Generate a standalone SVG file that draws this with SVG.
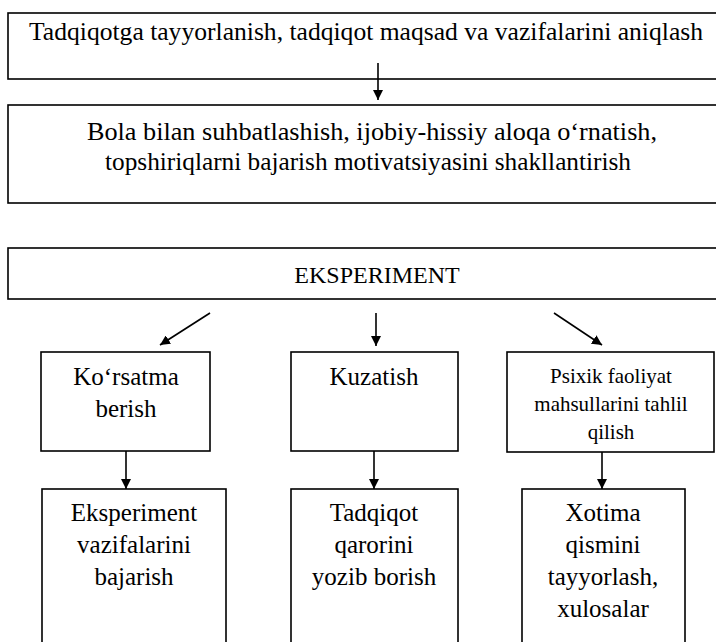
<svg xmlns="http://www.w3.org/2000/svg" width="716" height="642" viewBox="0 0 716 642">
<style>
.box{fill:none;stroke:#000;stroke-width:1.6}
.t{font-family:"Liberation Serif","Times New Roman",serif;font-size:25px;fill:#000;text-anchor:middle}
.s{font-size:21px}
.c{stroke:#000;stroke-width:1.6;fill:none;marker-end:url(#ah)}
</style>
<defs>
<marker id="ah" viewBox="0 0 10 10" refX="10" refY="5" markerWidth="10" markerHeight="10" markerUnits="userSpaceOnUse" orient="auto">
<path d="M0,0 L10,5 L0,10 z" fill="#000"/>
</marker>
</defs>
<rect width="716" height="642" fill="#fff"/>
<g id="connectors">
<line class="c" x1="378" y1="63" x2="378" y2="100"/>
<line class="c" x1="210" y1="313" x2="160" y2="345"/>
<line class="c" x1="376" y1="313" x2="376" y2="346"/>
<line class="c" x1="554" y1="313" x2="602" y2="345"/>
<line class="c" x1="126" y1="451" x2="126" y2="489"/>
<line class="c" x1="374" y1="451" x2="374" y2="489"/>
<line class="c" x1="602" y1="452" x2="602" y2="489"/>
</g>
<g id="n1">
<rect class="box" x="8" y="13" width="730" height="66"/>
<text class="t" x="366" y="40" textLength="674" lengthAdjust="spacingAndGlyphs">Tadqiqotga tayyorlanish, tadqiqot maqsad va vazifalarini aniqlash</text>
</g>
<g id="n2">
<rect class="box" x="8" y="105" width="730" height="98"/>
<text class="t" x="372" y="140" textLength="570" lengthAdjust="spacingAndGlyphs">Bola bilan suhbatlashish, ijobiy-hissiy aloqa o‘rnatish,</text>
<text class="t" x="368" y="170" textLength="526" lengthAdjust="spacingAndGlyphs">topshiriqlarni bajarish motivatsiyasini shakllantirish</text>
</g>
<g id="n3">
<rect class="box" x="8" y="248" width="730" height="51"/>
<text class="t" x="377" y="283" style="font-size:24px">EKSPERIMENT</text>
</g>
<g id="n4">
<rect class="box" x="41" y="352" width="169" height="99"/>
<text class="t" x="126" y="385">Ko‘rsatma</text>
<text class="t" x="126" y="417">berish</text>
</g>
<g id="n5">
<rect class="box" x="291" y="352" width="167" height="99"/>
<text class="t" x="374" y="385">Kuzatish</text>
</g>
<g id="n6">
<rect class="box" x="507" y="352" width="207" height="100"/>
<text class="t s" x="611" y="383">Psixik faoliyat</text>
<text class="t s" x="611" y="411">mahsullarini tahlil</text>
<text class="t s" x="611" y="439">qilish</text>
</g>
<g id="n7">
<rect class="box" x="42" y="489" width="184" height="170"/>
<text class="t" x="134" y="521">Eksperiment</text>
<text class="t" x="134" y="553">vazifalarini</text>
<text class="t" x="134" y="585">bajarish</text>
</g>
<g id="n8">
<rect class="box" x="291" y="489" width="167" height="170"/>
<text class="t" x="374" y="521">Tadqiqot</text>
<text class="t" x="374" y="553">qarorini</text>
<text class="t" x="374" y="585">yozib borish</text>
</g>
<g id="n9">
<rect class="box" x="522" y="489" width="163" height="170"/>
<text class="t" x="603" y="521">Xotima</text>
<text class="t" x="603" y="553">qismini</text>
<text class="t" x="603" y="585">tayyorlash,</text>
<text class="t" x="603" y="617">xulosalar</text>
</g>
</svg>
